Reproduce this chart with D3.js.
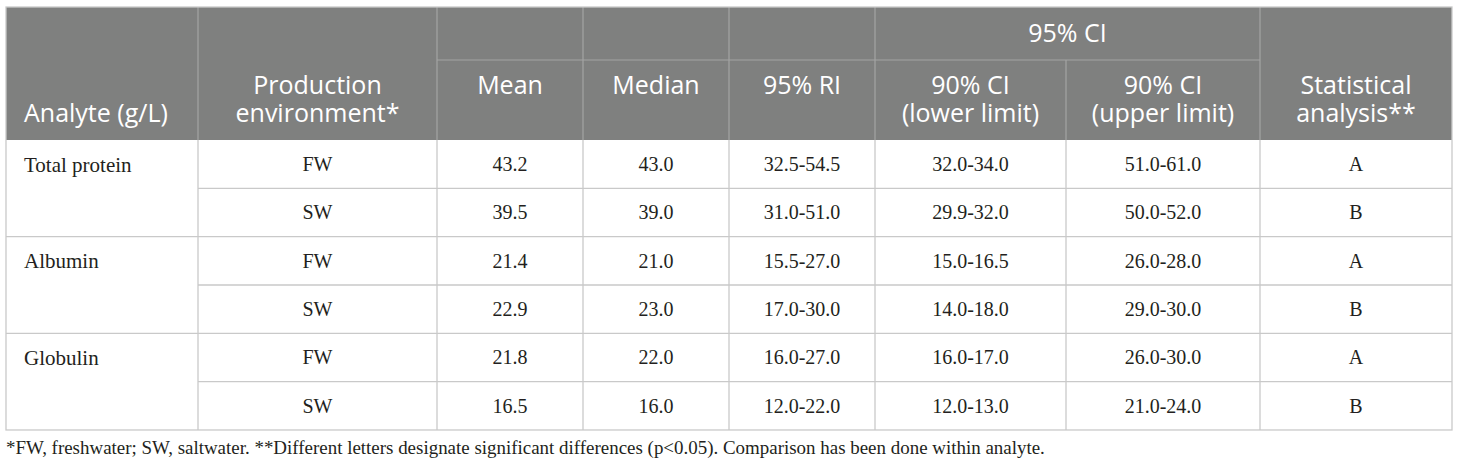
<!DOCTYPE html>
<html>
<head>
<meta charset="utf-8">
<script src="https://cdn.jsdelivr.net/npm/d3@7"></script>
<style>
  html, body { margin: 0; padding: 0; background: #ffffff; }
  svg { display: block; }
</style>
</head>
<body>
<svg id="chart" width="1460" height="467"></svg>
<script>
// ---- data ----
const analytes = ["Total protein", "Albumin", "Globulin"];
const environments = ["FW", "SW", "FW", "SW", "FW", "SW"];
const means = [43.2, 39.5, 21.4, 22.9, 21.8, 16.5];
const medians = [43.0, 39.0, 21.0, 23.0, 22.0, 16.0];
const ri95 = ["32.5-54.5", "31.0-51.0", "15.5-27.0", "17.0-30.0", "16.0-27.0", "12.0-22.0"];
const ciLower = ["32.0-34.0", "29.9-32.0", "15.0-16.5", "14.0-18.0", "16.0-17.0", "12.0-13.0"];
const ciUpper = ["51.0-61.0", "50.0-52.0", "26.0-28.0", "29.0-30.0", "26.0-30.0", "21.0-24.0"];
const stats = ["A", "B", "A", "B", "A", "B"];
const headerTop = ["", "", "", "", "", "95% CI", "", ""];
const headerCols = [
  ["Analyte (g/L)"],
  ["Production", "environment*"],
  ["Mean"],
  ["Median"],
  ["95% RI"],
  ["90% CI", "(lower limit)"],
  ["90% CI", "(upper limit)"],
  ["Statistical", "analysis**"]
];
const footnote = "*FW, freshwater; SW, saltwater. **Different letters designate significant differences (p<0.05). Comparison has been done within analyte.";

// ---- layout ----
const colEdges = [6, 198, 437, 583, 729, 875, 1066, 1260, 1452];
const nCols = colEdges.length - 1;
const xEdge = d3.scaleOrdinal().domain(d3.range(colEdges.length)).range(colEdges);
const tableTop = 7, headSplit = 60, headBottom = 140, rowH = 48.33;
const nRows = means.length;
const yRow = d3.scaleLinear().domain([0, nRows]).range([headBottom, headBottom + rowH * nRows]);

const headerFill = "#7f807f";
const headerLine = "#a3a4a3";
const bodyLine = "#c9c9c9";
const headFont = "'Open Sans', 'Noto Sans', sans-serif";
const bodyFont = "'Liberation Serif', 'DejaVu Serif', serif";

const svg = d3.select("#chart");

// header background
svg.append("rect")
  .attr("x", xEdge(0)).attr("y", tableTop)
  .attr("width", xEdge(nCols) - xEdge(0)).attr("height", headBottom - tableTop)
  .attr("fill", headerFill);

// header internal lines
const hl = svg.append("g").attr("stroke", headerLine).attr("stroke-width", 1.2);
d3.range(1, nCols).forEach(i => {
  const y1 = (i === 6) ? headSplit : tableTop;
  hl.append("line")
    .attr("x1", xEdge(i)).attr("x2", xEdge(i))
    .attr("y1", y1).attr("y2", headBottom);
});
hl.append("line")
  .attr("x1", xEdge(2)).attr("x2", xEdge(7))
  .attr("y1", headSplit).attr("y2", headSplit);

// header texts
const ht = svg.append("g").attr("fill", "#ffffff").attr("font-family", headFont)
  .attr("font-size", 25).attr("text-anchor", "middle");
headerTop.forEach((t, i) => {
  if (!t) return;
  const x = (i === 5) ? (xEdge(5) + xEdge(7)) / 2 : (xEdge(i) + xEdge(i + 1)) / 2;
  ht.append("text").attr("x", x).attr("y", 33).attr("dy", "0.35em").text(t);
});
headerCols.forEach((lines, i) => {
  const y0 = (i === 0) ? 113 : 85;
  const x = (i === 0) ? xEdge(0) + 18 : (xEdge(i) + xEdge(i + 1)) / 2;
  const txt = ht.append("text")
    .attr("text-anchor", i === 0 ? "start" : "middle");
  lines.forEach((ln, k) => {
    txt.append("tspan")
      .attr("x", x).attr("y", y0 + 28 * k).attr("dy", "0.35em").text(ln);
  });
});

// body grid lines
const bl = svg.append("g").attr("stroke", bodyLine).attr("stroke-width", 1.3).attr("fill", "none");
bl.append("rect")
  .attr("x", xEdge(0)).attr("y", tableTop)
  .attr("width", xEdge(nCols) - xEdge(0)).attr("height", yRow(nRows) - tableTop);
d3.range(1, nCols).forEach(i => {
  bl.append("line")
    .attr("x1", xEdge(i)).attr("x2", xEdge(i))
    .attr("y1", headBottom).attr("y2", yRow(nRows));
});
d3.range(1, nRows).forEach(r => {
  const x1 = (r % 2 === 0) ? xEdge(0) : xEdge(1);
  bl.append("line")
    .attr("x1", x1).attr("x2", xEdge(nCols))
    .attr("y1", yRow(r)).attr("y2", yRow(r));
});

// body texts
const bt = svg.append("g").attr("fill", "#231f20").attr("font-family", bodyFont).attr("font-size", 20);
analytes.forEach((a, k) => {
  bt.append("text")
    .attr("x", xEdge(0) + 18).attr("y", (yRow(2 * k) + yRow(2 * k + 1)) / 2)
    .attr("dy", "0.35em").attr("font-size", 21).text(a);
});
const columns = [
  environments,
  means.map(v => v.toFixed(1)),
  medians.map(v => v.toFixed(1)),
  ri95, ciLower, ciUpper, stats
];
columns.forEach((col, ci) => {
  const c = ci + 1;
  col.forEach((v, r) => {
    bt.append("text")
      .attr("x", (xEdge(c) + xEdge(c + 1)) / 2)
      .attr("y", (yRow(r) + yRow(r + 1)) / 2)
      .attr("dy", "0.35em").attr("text-anchor", "middle").text(v);
  });
});

// footnote
svg.append("text")
  .attr("x", 6).attr("y", 447).attr("dy", "0.35em")
  .attr("font-family", bodyFont).attr("font-size", 18.95).attr("fill", "#231f20")
  .text(footnote);
</script>
</body>
</html>
